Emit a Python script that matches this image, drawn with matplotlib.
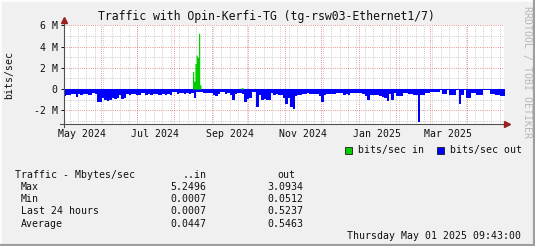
import pandas as pd
import matplotlib.pyplot as plt
from matplotlib.patches import Rectangle
from matplotlib.lines import Line2D

plt.rcParams['font.family'] = 'DejaVu Sans Mono'

# outgoing traffic, Mbit/s, one value per 2 days from 2024-05-01
out_mbit = [
    0.65, 0.60, 0.55, 0.45, 0.50, 0.75, 0.50, 0.55, 0.50, 0.45,
    0.60, 0.60, 0.40, 0.45, 1.25, 1.20, 0.80, 1.05, 1.10, 1.00,
    0.85, 0.90, 0.80, 0.55, 0.90, 0.85, 0.50, 0.55, 0.50, 0.45,
    0.60, 0.55, 0.40, 0.40, 0.55, 0.50, 0.55, 0.50, 0.50, 0.60,
    0.55, 0.50, 0.55, 0.50, 0.55, 0.25, 0.30, 0.45, 0.35, 0.35,
    0.45, 0.40, 0.45, 0.40, 0.80, 0.30, 0.25, 0.25, 0.40, 0.35,
    0.40, 0.35, 0.55, 0.70, 0.50, 0.25, 0.30, 0.45, 0.40, 0.55,
    1.00, 0.50, 0.40, 0.35, 0.50, 1.20, 0.90, 0.85, 0.30, 0.30,
    1.70, 0.60, 1.00, 0.95, 1.05, 1.00, 0.40, 0.55, 0.50, 0.55,
    0.60, 0.85, 1.40, 0.85, 1.65, 1.90, 0.65, 0.55, 0.55, 0.50,
    0.45, 0.40, 0.45, 0.45, 0.50, 0.45, 0.65, 1.20, 0.60, 0.50,
    0.45, 0.50, 0.45, 0.40, 0.40, 0.40, 0.55, 0.50, 0.55, 0.35,
    0.35, 0.40, 0.40, 0.40, 0.45, 0.70, 1.00, 0.60, 0.55, 0.60,
    0.60, 0.70, 0.75, 0.80, 1.10, 0.50, 1.00, 0.40, 0.70, 0.70,
    0.65, 0.40, 0.40, 0.50, 0.50, 0.60, 0.60, 3.15, 0.60, 0.60,
    0.40, 0.40, 0.30, 0.30, 0.25, 0.30, 0.05, 0.50, 0.50, 0.05,
    0.60, 0.55, 0.60, 0.05, 1.40, 0.60, 0.05, 0.80, 0.85, 0.40,
    0.40, 0.60, 0.60, 0.55, 0.10, 0.12, 0.10, 0.50, 0.50, 0.55,
    0.60, 0.70, 0.65,
]

# incoming traffic, Mbit/s, only the days where it is not ~0
in_days = ['2024-08-16', '2024-08-17', '2024-08-18', '2024-08-19', '2024-08-20',
           '2024-08-21', '2024-08-22', '2024-09-25', '2024-09-26']
in_mbit = [1.65, 0.75, 2.40, 3.20, 3.00, 5.25, 0.40, 0.12, 0.12]

y_ticks = [-2, 0, 2, 4, 6]
y_labels = ['-2 M', '0', '2 M', '4 M', '6 M']
x_labels = ['May 2024', 'Jul 2024', 'Sep 2024', 'Nov 2024', 'Jan 2025', 'Mar 2025']

stat_rows = ['Max', 'Min', 'Last 24 hours', 'Average']
stat_in = ['5.2496', '0.0007', '0.0007', '0.0447']
stat_out = ['3.0934', '0.0512', '0.5237', '0.5463']

W, H = 535, 246
t_start = pd.Timestamp('2024-05-01 09:43')
t_end = pd.Timestamp('2025-05-01 09:43')

# step series (last value repeated so the final step is closed)
out_s = pd.Series(out_mbit, index=pd.date_range('2024-05-01', periods=len(out_mbit), freq='2D'))
out_s[out_s.index[-1] + pd.Timedelta(days=2)] = out_s.iloc[-1]
days = pd.date_range('2024-05-01', '2025-05-02', freq='D')
in_s = pd.Series(in_mbit, index=pd.to_datetime(in_days)).reindex(days, fill_value=0.0)
label_dates = [pd.Timestamp(s).replace(day=16) for s in x_labels]


def fx(x):
    return x / W


def fy(y):
    return 1 - y / H


txt = '#101010'
fig = plt.figure(figsize=(W / 100, H / 100), dpi=100, facecolor='#f0f0f0')

# frame shade like rrdtool
fig.add_artist(Line2D([0, 0, 1], [0, 1, 1], transform=fig.transFigure, color='#fcfcfc', lw=2))
fig.add_artist(Line2D([0, 1, 1], [0, 0, 1], transform=fig.transFigure, color='#9e9e9e', lw=3))

top, bottom = 25.3, 124.3
ax = fig.add_axes([fx(64), fy(bottom), fx(440), (bottom - top) / H])
ax.set_facecolor('white')

# grid
dots = (0, (0.75, 1.45))
for d in pd.date_range('2024-05-06', '2025-05-01', freq='7D'):
    ax.axvline(d, color='#bdbdbd', lw=0.72, ls=dots, zorder=0)
for d in pd.date_range('2024-05-01', '2025-05-01', freq='MS'):
    ax.axvline(d, color='#e27a7a', lw=0.72, ls=dots, zorder=0)
for v in [-3, -1, 1, 3, 5]:
    ax.axhline(v * 1e6, color='#bdbdbd', lw=0.72, ls=dots, zorder=0)
for v in y_ticks:
    ax.axhline(v * 1e6, color='#e27a7a', lw=0.72, ls=dots, zorder=0)

ax.fill_between(out_s.index, -out_s.values * 1e6, 0, step='post', color='#0000ff', lw=0,
                antialiased=False, zorder=2)
ax.fill_between(in_s.index, in_s.values * 1e6, 0, step='post', color='#00cc00', lw=0,
                antialiased=False, zorder=2)

ax.set_xlim(t_start, t_end)
ax.set_ylim(-3.32e6, 6e6)

ax.set_yticks([v * 1e6 for v in y_ticks])
ax.set_yticklabels(y_labels)
ax.set_xticks(label_dates)
ax.set_xticklabels(x_labels)
ax.tick_params(axis='y', length=2, width=0.7, pad=2.5, labelsize=7.1, colors=txt)
ax.tick_params(axis='x', length=0, pad=3.6, labelsize=7.1, colors=txt)
for s in ax.spines.values():
    s.set_visible(False)

# axes with arrows
ax_col = '#505050'
fig.add_artist(Line2D([fx(64), fx(64)], [fy(bottom + 3), fy(21)], transform=fig.transFigure, color=ax_col, lw=0.8))
fig.add_artist(Line2D([fx(60), fx(506)], [fy(bottom), fy(bottom)], transform=fig.transFigure, color=ax_col, lw=0.8))
fig.add_artist(Line2D([fx(64)], [fy(20)], transform=fig.transFigure, marker='^', markersize=4,
                      color='#9a2020', lw=0))
fig.add_artist(Line2D([fx(507)], [fy(bottom)], transform=fig.transFigure, marker='>', markersize=4,
                      color='#9a2020', lw=0))

fig.text(fx(266), fy(16.5), 'Traffic with Opin-Kerfi-TG (tg-rsw03-Ethernet1/7)',
         ha='center', va='center', fontsize=8.3, color=txt)
fig.text(fx(9.5), fy(75), 'bits/sec', rotation=90, ha='center', va='center', fontsize=7.1, color=txt)
fig.text(fx(527), fy(72), 'RRDTOOL / TOBI OETIKER', rotation=270, ha='center', va='center',
         fontsize=7.1, color='#b8b8b8')

# legend
fig.add_artist(Rectangle((fx(344.5), fy(154)), fx(7), 7 / H, transform=fig.transFigure,
                         facecolor='#00cc00', edgecolor='black', lw=0.5))
fig.text(fx(357.5), fy(150.5), 'bits/sec in', ha='left', va='center', fontsize=7.1, color=txt)
fig.add_artist(Rectangle((fx(436.5), fy(154)), fx(7), 7 / H, transform=fig.transFigure,
                         facecolor='#0000ff', edgecolor='black', lw=0.5))
fig.text(fx(449.5), fy(150.5), 'bits/sec out', ha='left', va='center', fontsize=7.1, color=txt)

# stats table
fig.text(fx(15), fy(174.6), 'Traffic - Mbytes/sec', ha='left', va='center', fontsize=7.1, color=txt)
fig.text(fx(206.5), fy(174.6), '..in', ha='right', va='center', fontsize=7.1, color=txt)
fig.text(fx(295.5), fy(174.6), 'out', ha='right', va='center', fontsize=7.1, color=txt)
for i, name in enumerate(stat_rows):
    yy = 186.9 + i * 12.27
    fig.text(fx(21), fy(yy), name, ha='left', va='center', fontsize=7.1, color=txt)
    fig.text(fx(206.5), fy(yy), stat_in[i], ha='right', va='center', fontsize=7.1, color=txt)
    fig.text(fx(303.7), fy(yy), stat_out[i], ha='right', va='center', fontsize=7.1, color=txt)

fig.text(fx(521), fy(236), 'Thursday May 01 2025 09:43:00', ha='right', va='center',
         fontsize=7.1, color=txt)

fig.savefig('out.png', dpi=100, facecolor=fig.get_facecolor())
